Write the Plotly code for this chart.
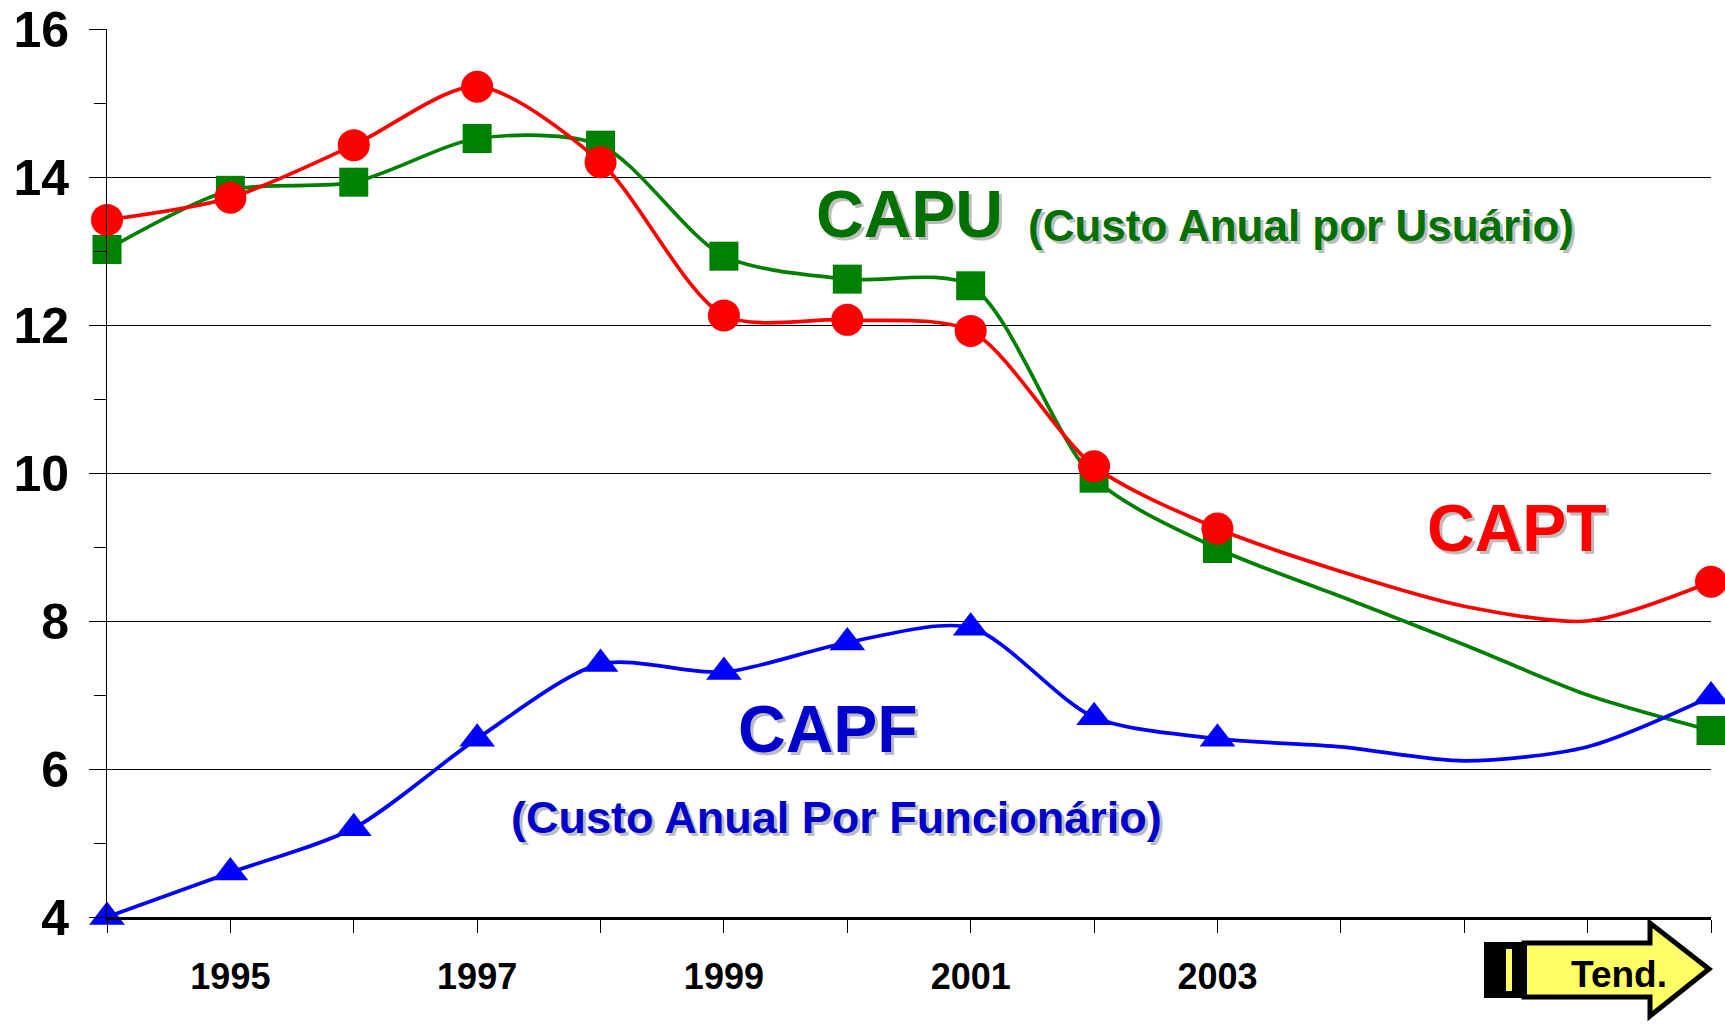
import plotly.graph_objects as go

# Yearly values (2004-2006 are trend values drawn without markers)
years = [1994, 1995, 1996, 1997, 1998, 1999, 2000, 2001, 2002, 2003, 2004, 2005, 2006, 2007]
capt = [13.42, 13.72, 14.43, 15.22, 14.20, 12.13, 12.07, 11.92, 10.09, 9.25, 8.67, 8.20, 8.00, 8.53]
capu = [13.02, 13.82, 13.93, 14.52, 14.43, 12.93, 12.62, 12.53, 9.93, 8.98, 8.33, 7.68, 7.00, 6.52]
capf = [4.00, 4.60, 5.20, 6.41, 7.42, 7.31, 7.71, 7.91, 6.70, 6.41, 6.30, 6.11, 6.30, 6.98]
marker_years = [1994, 1995, 1996, 1997, 1998, 1999, 2000, 2001, 2002, 2003, 2007]

tick_years = list(range(1994, 2008))
tick_labels = ["", "1995", "", "1997", "", "1999", "", "2001", "", "2003", "", "", "", ""]

FONT = "Arial, Liberation Sans, sans-serif"
W, H = 1725, 1024
L, T = 107, 29
R = W - 1711
B = H - 917
PW, PH = W - L - R, H - T - B


def px(x):  # window pixel -> paper
    return (x - L) / PW


def py(y):
    return (H - B - y) / PH


fig = go.Figure()

series = [
    ("CAPU", capu, "#008000", "square", 29),
    ("CAPT", capt, "#FF0000", "circle", 32),
    ("CAPF", capf, "#0000FF", "triangle-up", 31),
]
for name, vals, col, sym, sz in series:
    fig.add_trace(go.Scatter(
        x=years, y=vals, name=name, mode="lines",
        line=dict(color=col, width=3.7, shape="spline", smoothing=0.8),
        cliponaxis=False, showlegend=False, hoverinfo="skip",
    ))
    mx = [y for y in years if y in marker_years]
    my = [v for y, v in zip(years, vals) if y in marker_years]
    fig.add_trace(go.Scatter(
        x=mx, y=my, name=name, mode="markers",
        marker=dict(color=col, symbol=sym, size=sz, line=dict(width=0)),
        cliponaxis=False, showlegend=False,
    ))

fig.update_xaxes(
    range=[1994, 2007], tickmode="array", tickvals=tick_years, ticktext=tick_labels,
    ticks="outside", ticklen=13, tickwidth=1, tickcolor="black",
    showline=True, linecolor="black", linewidth=3, showgrid=False, zeroline=False,
    tickfont=dict(family=FONT, size=36, color="black", weight="bold"),
    ticklabelstandoff=13, automargin=False, ticklabeloverflow="allow",
)
fig.update_yaxes(
    range=[4, 16], dtick=2, ticks="outside", ticklen=17, tickwidth=1, tickcolor="black",
    showline=True, linecolor="black", linewidth=1, showgrid=True, gridcolor="black",
    gridwidth=1.2, zeroline=False,
    minor=dict(dtick=1, ticks="outside", ticklen=12, tickcolor="black", showgrid=False),
    tickfont=dict(family=FONT, size=50, color="black", weight="bold"),
    ticklabelstandoff=10, automargin=False, ticklabeloverflow="allow",
)

annots = [
    ("CAPU", 1999.73, 13.50, "left", 66, "#007000"),
    ("(Custo Anual por Usuário)", 2001.45, 13.35, "left", 44, "#007000"),
    ("CAPT", 2005.43, 9.26, "center", 66, "#FF0000"),
    ("CAPF", 1999.84, 6.54, "center", 66, "#0000CC"),
    ("(Custo Anual Por Funcionário)", 1999.91, 5.35, "center", 45, "#0000CC"),
]
for text, x, y, anc, size, col in annots:
    for dx, dy, c in [(3, -3, "#BDBDBD"), (0, 0, col)]:
        fig.add_annotation(
            x=x, y=y, xref="x", yref="y", text=text, showarrow=False,
            xanchor=anc, yanchor="middle", xshift=dx, yshift=dy,
            font=dict(family=FONT, size=size, color=c, weight="bold"),
        )

# "Tend." arrow (window pixel positions)
body_l, body_r, body_t, body_b = 1524, 1650, 943, 997
head_t, head_b, tip_x, tip_y = 923, 1016, 1709, 969
path = (f"M {px(body_l)} {py(body_t)} L {px(body_r)} {py(body_t)} L {px(body_r)} {py(head_t)} "
        f"L {px(tip_x)} {py(tip_y)} L {px(body_r)} {py(head_b)} L {px(body_r)} {py(body_b)} "
        f"L {px(body_l)} {py(body_b)} Z")
fig.add_shape(type="path", path=path, xref="paper", yref="paper",
              fillcolor="#FFFF66", line=dict(color="black", width=5))
fig.add_shape(type="rect", xref="paper", yref="paper",
              x0=px(1485), x1=px(1526), y0=py(997), y1=py(943),
              fillcolor="black", line=dict(color="black", width=2))
fig.add_shape(type="rect", xref="paper", yref="paper",
              x0=px(1506), x1=px(1512), y0=py(991), y1=py(949),
              fillcolor="#FFFF66", line=dict(width=0))
fig.add_shape(type="rect", xref="paper", yref="paper",
              x0=px(1568), x1=px(1670), y0=py(990), y1=py(950),
              line=dict(width=0), fillcolor="rgba(0,0,0,0)",
              label=dict(text="Tend.", textposition="middle center",
                         font=dict(family=FONT, size=37, color="black", weight="bold")))

fig.update_layout(
    width=W, height=H, margin=dict(l=L, r=R, t=T, b=B, pad=0),
    paper_bgcolor="white", plot_bgcolor="white",
)

# place the figure flush with the window corner (remove the default 8px body margin)
fig.write_html("out.html", config={"displayModeBar": False},
               post_script="document.body.style.margin='0px';")
